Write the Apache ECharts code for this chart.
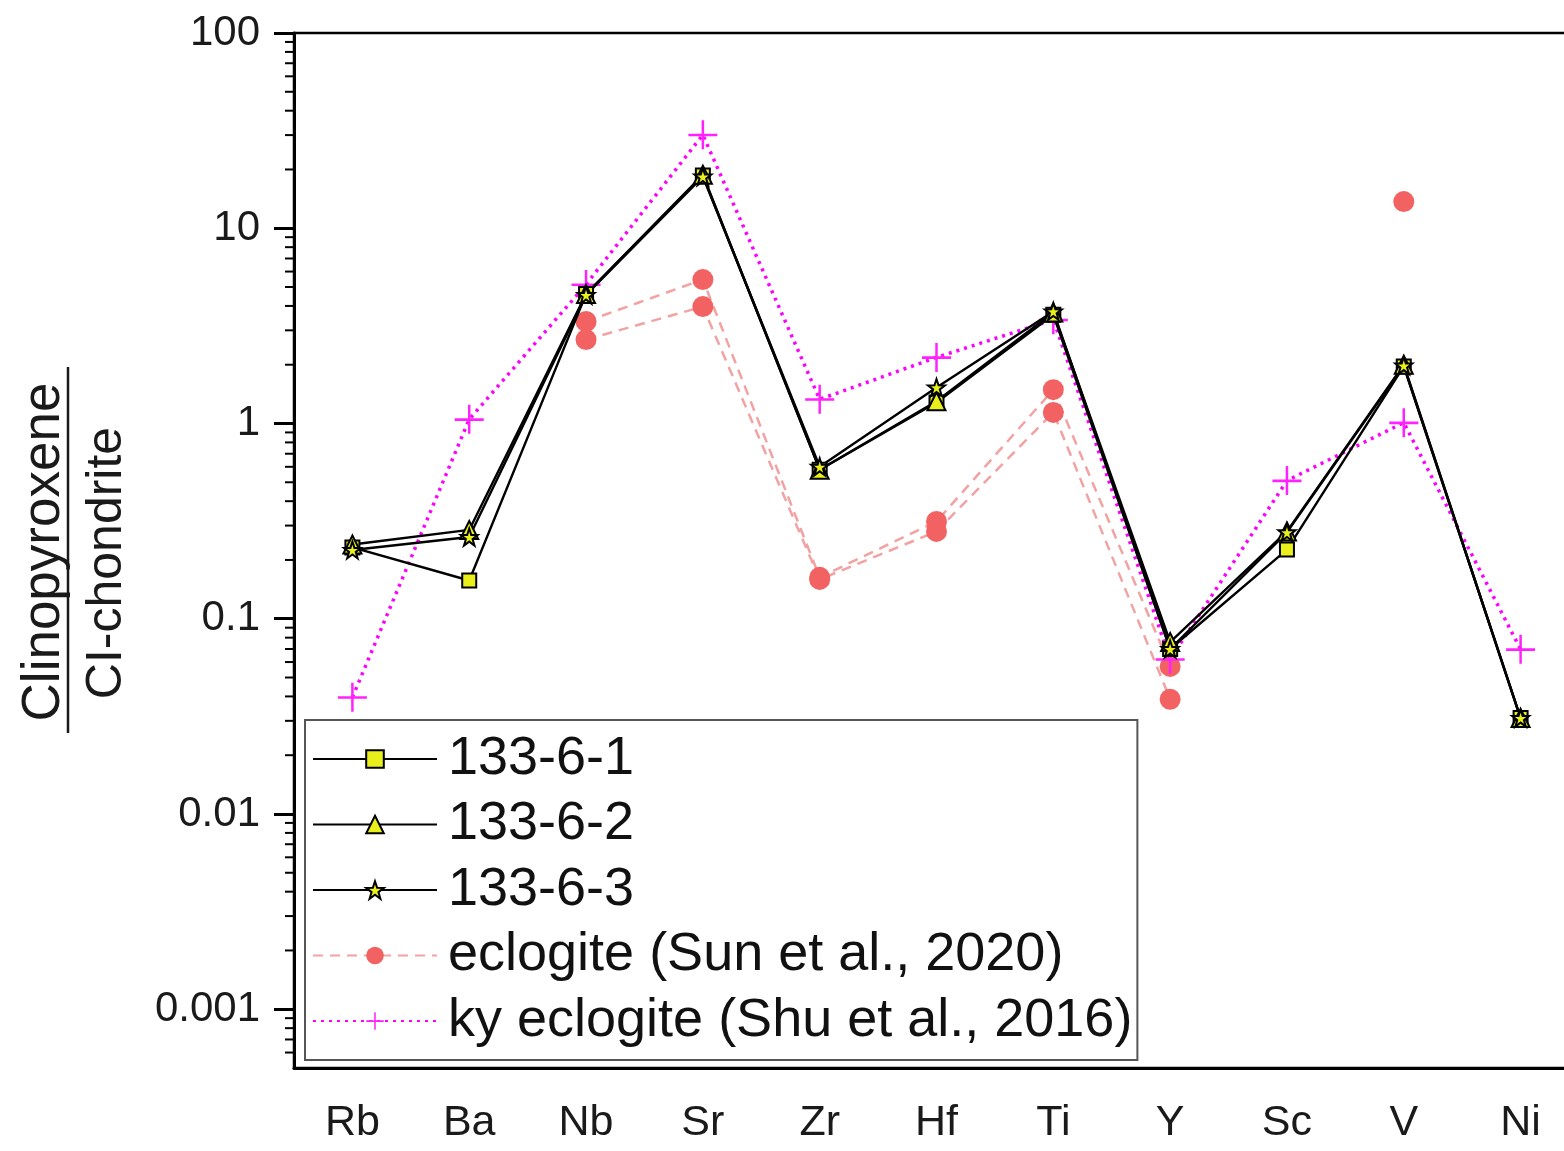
<!DOCTYPE html>
<html>
<head>
<meta charset="utf-8">
<script src="https://cdn.jsdelivr.net/npm/echarts@6/dist/echarts.min.js"></script>
<style>
html,body{margin:0;padding:0;background:#fff;overflow:hidden;}
#chart{width:1579px;height:1151px;}
</style>
</head>
<body>
<div id="chart"></div>
<script>
const categories = ['Rb','Ba','Nb','Sr','Zr','Hf','Ti','Y','Sc','V','Ni'];
const sample1 = [0.232, 0.157, 4.6, 18.6, 0.58, 1.28, 3.6, 0.07, 0.226, 1.96, 0.031];
const sample2 = [0.24, 0.285, 4.6, 18.8, 0.58, 1.3, 3.7, 0.076, 0.28, 2.0, 0.031];
const sample3 = [0.225, 0.262, 4.55, 18.4, 0.6, 1.53, 3.75, 0.07, 0.277, 1.98, 0.031];
const eclogiteA = [null, null, 3.33, 5.46, 0.163, 0.315, 1.49, 0.057, null, 13.7, null];
const eclogiteB = [null, null, 2.69, 3.97, 0.159, 0.28, 1.14, 0.0387, null, null, null];
const kyEclogite = [0.0396, 1.05, 5.15, 30.1, 1.33, 2.18, 3.4, 0.062, 0.51, 1.01, 0.0697];
const yTickLabels = ['0.001', '0.01', '0.1', '1', '10', '100'];
const minorTickValues = [
  0.0006, 0.0007, 0.0008, 0.0009,
  0.002, 0.003, 0.004, 0.005, 0.006, 0.007, 0.008, 0.009,
  0.02, 0.03, 0.04, 0.05, 0.06, 0.07, 0.08, 0.09,
  0.2, 0.3, 0.4, 0.5, 0.6, 0.7, 0.8, 0.9,
  2, 3, 4, 5, 6, 7, 8, 9,
  20, 30, 40, 50, 60, 70, 80, 90
];
const names = ['133-6-1', '133-6-2', '133-6-3', 'eclogite (Sun et al., 2020)', 'ky eclogite (Shu et al., 2016)'];

const FONT = "'Liberation Sans', Arial, sans-serif";
const STAR = 'path://M50,0 L61.8,35.2 L98.8,35.5 L69.1,57.6 L80.2,93.1 L50,71.5 L19.8,93.1 L30.9,57.6 L1.2,35.5 L38.2,35.2 Z';
const PLUS = 'path://M0,13 L28,13 L28,15.5 L0,15.5 Z M12.8,0 L15.2,0 L15.2,28 L12.8,28 Z';

const chart = echarts.init(document.getElementById('chart'), null, {renderer: 'canvas'});

function blackSeries(name, data, symbol, size) {
  return {
    name: name, type: 'line', data: data,
    symbol: symbol, symbolSize: size,
    lineStyle: {color: '#000', width: 2.4},
    itemStyle: {color: '#e8ef1a', borderColor: '#000', borderWidth: 2},
    z: 4
  };
}
function eclSeries(data) {
  return {
    name: names[3], type: 'line', data: data,
    symbol: 'circle', symbolSize: 21,
    connectNulls: false,
    lineStyle: {color: '#f2a2a2', width: 2.5, type: [10, 7]},
    itemStyle: {color: '#f26262', opacity: 1},
    z: 2
  };
}

const option = {
  animation: false,
  backgroundColor: '#fff',
  grid: {left: 294, top: 33, right: 0, bottom: 83, show: true, borderColor: '#000', borderWidth: 2.5, backgroundColor: 'transparent'},
  legend: {
    data: names,
    orient: 'vertical',
    left: 305, top: 720,
    padding: [12, 5, 12, 7],
    itemGap: 11.5,
    itemWidth: 124, itemHeight: 22,
    borderColor: '#555', borderWidth: 2,
    backgroundColor: '#fff',
    textStyle: {fontFamily: FONT, fontSize: 54, color: '#111', padding: [0, 0, 0, 6]},
    selectedMode: false
  },
  xAxis: {
    type: 'category', data: categories, boundaryGap: true,
    axisLine: {lineStyle: {color: '#000', width: 3}},
    axisTick: {alignWithLabel: true, length: 13, lineStyle: {color: '#000', width: 2}},
    axisLabel: {fontFamily: FONT, fontSize: 43, color: '#1a1a1a', margin: 34},
    splitLine: {show: false}
  },
  yAxis: {
    type: 'log', logBase: 10, min: 0.0005, max: 100,
    axisLine: {show: true, lineStyle: {color: '#000', width: 3}},
    axisTick: {show: true, length: 20, lineStyle: {color: '#000', width: 3}},
    axisLabel: {
      fontFamily: FONT, fontSize: 42, color: '#1a1a1a', margin: 34,
      showMinLabel: false,
      formatter: function (v) {
        const e = Math.round(Math.log10(v));
        const idx = e + 3;
        if (Math.abs(Math.log10(v) - e) < 1e-6 && idx >= 0 && idx < yTickLabels.length) return yTickLabels[idx];
        return '';
      }
    },
    splitLine: {show: false}
  },
  series: [
    eclSeries(eclogiteA),
    eclSeries(eclogiteB),
    {
      name: names[4], type: 'line', data: kyEclogite,
      symbol: PLUS, symbolSize: [29, 29],
      lineStyle: {color: '#ff00ff', width: 3.5, type: [3, 5]},
      itemStyle: {color: '#ff22ff'},
      z: 3
    },
    blackSeries(names[0], sample1, 'rect', 14),
    blackSeries(names[1], sample2, 'triangle', 18),
    blackSeries(names[2], sample3, STAR, 17),
    {
      type: 'custom', name: 'minorTicks', silent: true, clip: false,
      data: minorTickValues.map(function (v) { return [0, v]; }),
      encode: {x: 0, y: 1},
      renderItem: function (params, api) {
        const p = api.coord([api.value(0), api.value(1)]);
        const half = api.size([1, 0])[0] / 2;
        const x0 = p[0] - half;
        return {type: 'line', shape: {x1: x0 - 9, y1: p[1], x2: x0, y2: p[1]}, style: {stroke: '#000', lineWidth: 2}};
      },
      z: 1
    }
  ],
  graphic: [
    {
      type: 'group', x: 68, y: 550, rotation: Math.PI / 2,
      children: [
        {type: 'text', x: -2, y: -24, style: {text: 'Clinopyroxene', font: '53px ' + FONT, fill: '#1a1a1a', textAlign: 'center', textVerticalAlign: 'middle'}},
        {type: 'line', shape: {x1: -183, y1: 0, x2: 183, y2: 0}, style: {stroke: '#1a1a1a', lineWidth: 2.5}},
        {type: 'text', x: -13, y: 39, style: {text: 'CI-chondrite', font: '50px ' + FONT, fill: '#1a1a1a', textAlign: 'center', textVerticalAlign: 'middle'}}
      ]
    }
  ]
};
chart.setOption(option);
</script>
</body>
</html>
